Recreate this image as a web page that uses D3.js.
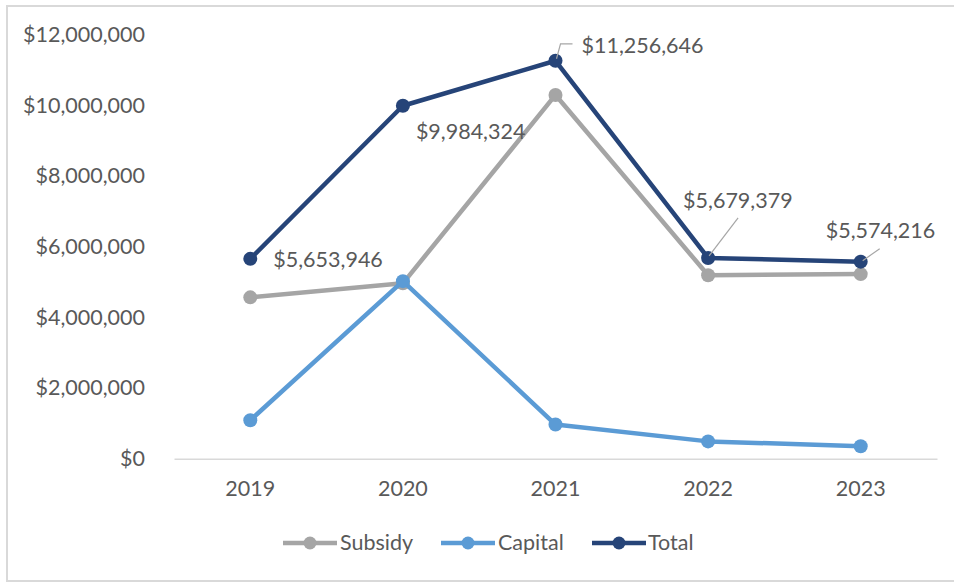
<!DOCTYPE html>
<html>
<head>
<meta charset="utf-8">
<script src="https://cdn.jsdelivr.net/npm/d3@7"></script>
<style>
  html, body { margin: 0; padding: 0; background: #fff; }
  svg { display: block; }
  text { font-family: Lato, "Open Sans", sans-serif; fill: #595959; }
</style>
</head>
<body>
<svg id="chart" width="954" height="582"></svg>
<script>
// Annual funding by type
const years = ["2019", "2020", "2021", "2022", "2023"];
const subsidy = [4565000, 4962000, 10290000, 5189000, 5222000];
const capital = [1089000, 5022000, 967000, 490000, 352000];
const total = [5653946, 9984324, 11256646, 5679379, 5574216];
const yTicks = [0, 2000000, 4000000, 6000000, 8000000, 10000000, 12000000];
const seriesNames = ["Subsidy", "Capital", "Total"];
const seriesColors = ["#a5a5a5", "#5b9bd5", "#264478"];

const series = [subsidy, capital, total].map((values, i) => ({
  name: seriesNames[i], color: seriesColors[i], values
}));

const svg = d3.select("#chart");
const W = 954;
const FS = 21.5;

// Chart frame
svg.append("rect")
  .attr("x", 7).attr("y", 6)
  .attr("width", W + 10).attr("height", 575)
  .attr("fill", "#fff")
  .attr("stroke", "#d9d9d9").attr("stroke-width", 2);

const x = d3.scaleBand().domain(years).range([174, 937]);
const y = d3.scaleLinear().domain([0, 12000000]).range([458.7, 34.5]);
const fmt = v => "$" + d3.format(",")(v);
const cx = yr => x(yr) + x.bandwidth() / 2;

// Y axis labels (no axis line, no gridlines)
const yAxis = d3.axisLeft(y).tickValues(yTicks).tickFormat(fmt).tickSize(0).tickPadding(0);
const gy = svg.append("g").attr("transform", "translate(145,0)").call(yAxis);
gy.select(".domain").remove();
gy.selectAll("text")
  .style("font-family", "Lato, 'Open Sans', sans-serif")
  .attr("font-size", FS).attr("fill", "#595959");

// X axis
const xAxis = d3.axisBottom(x).tickSize(0).tickPadding(0);
const gx = svg.append("g").attr("transform", `translate(0,${y(0)})`).call(xAxis);
gx.select(".domain").attr("stroke", "#d9d9d9").attr("stroke-width", 1.5);
gx.selectAll("text")
  .style("font-family", "Lato, 'Open Sans', sans-serif")
  .attr("font-size", FS).attr("fill", "#595959")
  .attr("dy", null).attr("y", 32).attr("dominant-baseline", "middle");

// Lines and markers
const line = d3.line().x((d, i) => cx(years[i])).y(d => y(d));
series.forEach(s => {
  const g = svg.append("g");
  g.append("path")
    .attr("d", line(s.values))
    .attr("fill", "none")
    .attr("stroke", s.color)
    .attr("stroke-width", 4.5)
    .attr("stroke-linejoin", "round")
    .attr("stroke-linecap", "round");
  g.selectAll("circle").data(s.values).join("circle")
    .attr("cx", (d, i) => cx(years[i]))
    .attr("cy", d => y(d))
    .attr("r", 7)
    .attr("fill", s.color);
});

// Data labels on the Total series (offsets from each point; leader flag draws a connector)
const labelOffsets = [
  { dx: 23, dy: 3, leader: null },
  { dx: 13, dy: 28, leader: null },
  { dx: 26, dy: -13, leader: [[1, -2], [5, -17], [17, -17]] },
  { dx: -25, dy: -55, leader: [[1, -2], [30, -40]] },
  { dx: -35, dy: -29, leader: [[2, -1], [19, -13]] }
];
const lg = svg.append("g");
total.forEach((v, i) => {
  const px = cx(years[i]), py = y(v);
  const o = labelOffsets[i];
  if (o.leader) {
    lg.append("path")
      .attr("d", d3.line()(o.leader.map(p => [px + p[0], py + p[1]])))
      .attr("fill", "none").attr("stroke", "#a6a6a6").attr("stroke-width", 1.2);
  }
  lg.append("text")
    .attr("x", px + o.dx).attr("y", py + o.dy)
    .attr("font-size", FS)
    .attr("dominant-baseline", "middle")
    .text(fmt(v));
});

// Legend
const legendItems = [
  { x0: 283, tx: 340 },
  { x0: 441, tx: 498 },
  { x0: 592, tx: 648 }
];
const leg = svg.append("g");
series.forEach((s, i) => {
  const it = legendItems[i], ly = 543;
  leg.append("line")
    .attr("x1", it.x0).attr("x2", it.x0 + 54)
    .attr("y1", ly).attr("y2", ly)
    .attr("stroke", s.color).attr("stroke-width", 4.5);
  leg.append("circle")
    .attr("cx", it.x0 + 27).attr("cy", ly).attr("r", 6.5)
    .attr("fill", s.color);
  leg.append("text")
    .attr("x", it.tx).attr("y", ly + 1.5)
    .attr("font-size", FS)
    .attr("dominant-baseline", "middle")
    .text(s.name);
});
</script>
</body>
</html>
